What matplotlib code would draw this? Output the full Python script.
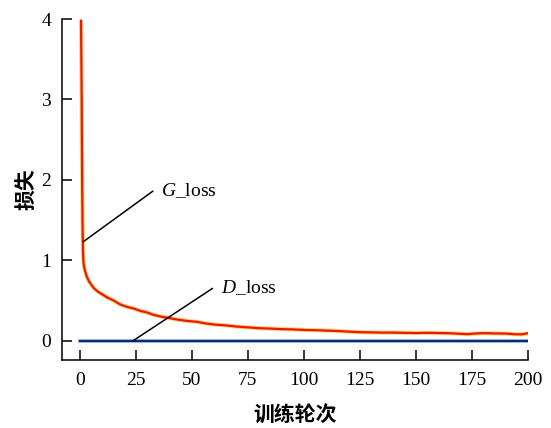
import matplotlib
matplotlib.use("Agg")
import matplotlib.pyplot as plt

plt.rcParams["mathtext.fontset"] = "custom"
plt.rcParams["mathtext.rm"] = "Liberation Serif"
plt.rcParams["mathtext.it"] = "Liberation Serif:italic"

epochs_g = [0.5, 0.8, 1.0, 1.2, 1.4, 1.6, 2, 3, 4, 5, 6, 8, 10, 12, 15, 18, 21, 24, 27, 30,
            33, 36, 40, 44, 48, 52, 56, 60, 65, 70, 75, 80, 85, 90, 95, 100, 105, 110, 115,
            120, 125, 130, 135, 140, 145, 150, 155, 160, 165, 170, 173, 176, 180, 185, 190,
            194, 197, 200]
g_loss = [3.98, 3.0, 2.0, 1.4, 1.1, 0.97, 0.9, 0.8, 0.74, 0.70, 0.66, 0.61, 0.575, 0.54,
          0.50, 0.45, 0.42, 0.40, 0.37, 0.35, 0.32, 0.30, 0.28, 0.26, 0.245, 0.235, 0.215,
          0.20, 0.19, 0.175, 0.165, 0.155, 0.15, 0.143, 0.14, 0.133, 0.13, 0.125, 0.12,
          0.112, 0.105, 0.103, 0.10, 0.10, 0.097, 0.095, 0.097, 0.095, 0.092, 0.085, 0.08,
          0.088, 0.093, 0.09, 0.088, 0.08, 0.078, 0.092]
epochs_d = [0, 50, 100, 150, 200]
d_loss = [0.0, 0.0, 0.0, 0.0, 0.0]

xticks = [0, 25, 50, 75, 100, 125, 150, 175, 200]
yticks = [0, 1, 2, 3, 4]

serif = ["Liberation Serif", "DejaVu Serif"]
cjk = ["Noto Sans CJK SC", "DejaVu Sans"]

fig = plt.figure(figsize=(5.51, 4.28), dpi=100)
ax = fig.add_axes([0.1125, 0.159, 0.8455, 0.7966])

ax.plot(epochs_g, g_loss, color="#f7c04a", lw=3.0, alpha=0.7, solid_capstyle="butt", zorder=2)
ax.plot(epochs_g, g_loss, color="#ee1a00", lw=1.6, zorder=3)
ax.plot(epochs_d, d_loss, color="#a8c8e8", lw=3.0, zorder=2)
ax.plot(epochs_d, d_loss, color="#0d2a6a", lw=1.6, zorder=3)

ax.set_xlim(-8, 200)
ax.set_ylim(-0.24, 4)
ax.set_xticks(xticks)
ax.set_yticks(yticks)
ax.tick_params(direction="in", length=7, width=1.1, labelsize=14)
ax.tick_params(axis="x", pad=9)
ax.tick_params(axis="y", pad=8)
for lab in ax.get_xticklabels() + ax.get_yticklabels():
    lab.set_family(serif)
for s in ["top", "right"]:
    ax.spines[s].set_visible(False)
for s in ["left", "bottom"]:
    ax.spines[s].set_linewidth(1.1)

ax.set_xlabel("训练轮次", family=cjk, fontsize=15, fontweight="bold", labelpad=10)
ax.set_ylabel("损失", family=cjk, fontsize=15, fontweight="bold", labelpad=3)

ax.annotate("", xy=(1.5, 1.23), xytext=(32.6, 1.86),
            arrowprops=dict(arrowstyle="-", color="black", lw=1.1, shrinkA=0, shrinkB=0))
ax.text(36.0, 1.87, "$G$_loss", fontsize=14, family=serif, va="center", ha="left")
ax.annotate("", xy=(23.8, 0.0), xytext=(59.2, 0.65),
            arrowprops=dict(arrowstyle="-", color="black", lw=1.1, shrinkA=0, shrinkB=0))
ax.text(63.0, 0.66, "$D$_loss", fontsize=14, family=serif, va="center", ha="left")

fig.savefig("out.png", dpi=100)
